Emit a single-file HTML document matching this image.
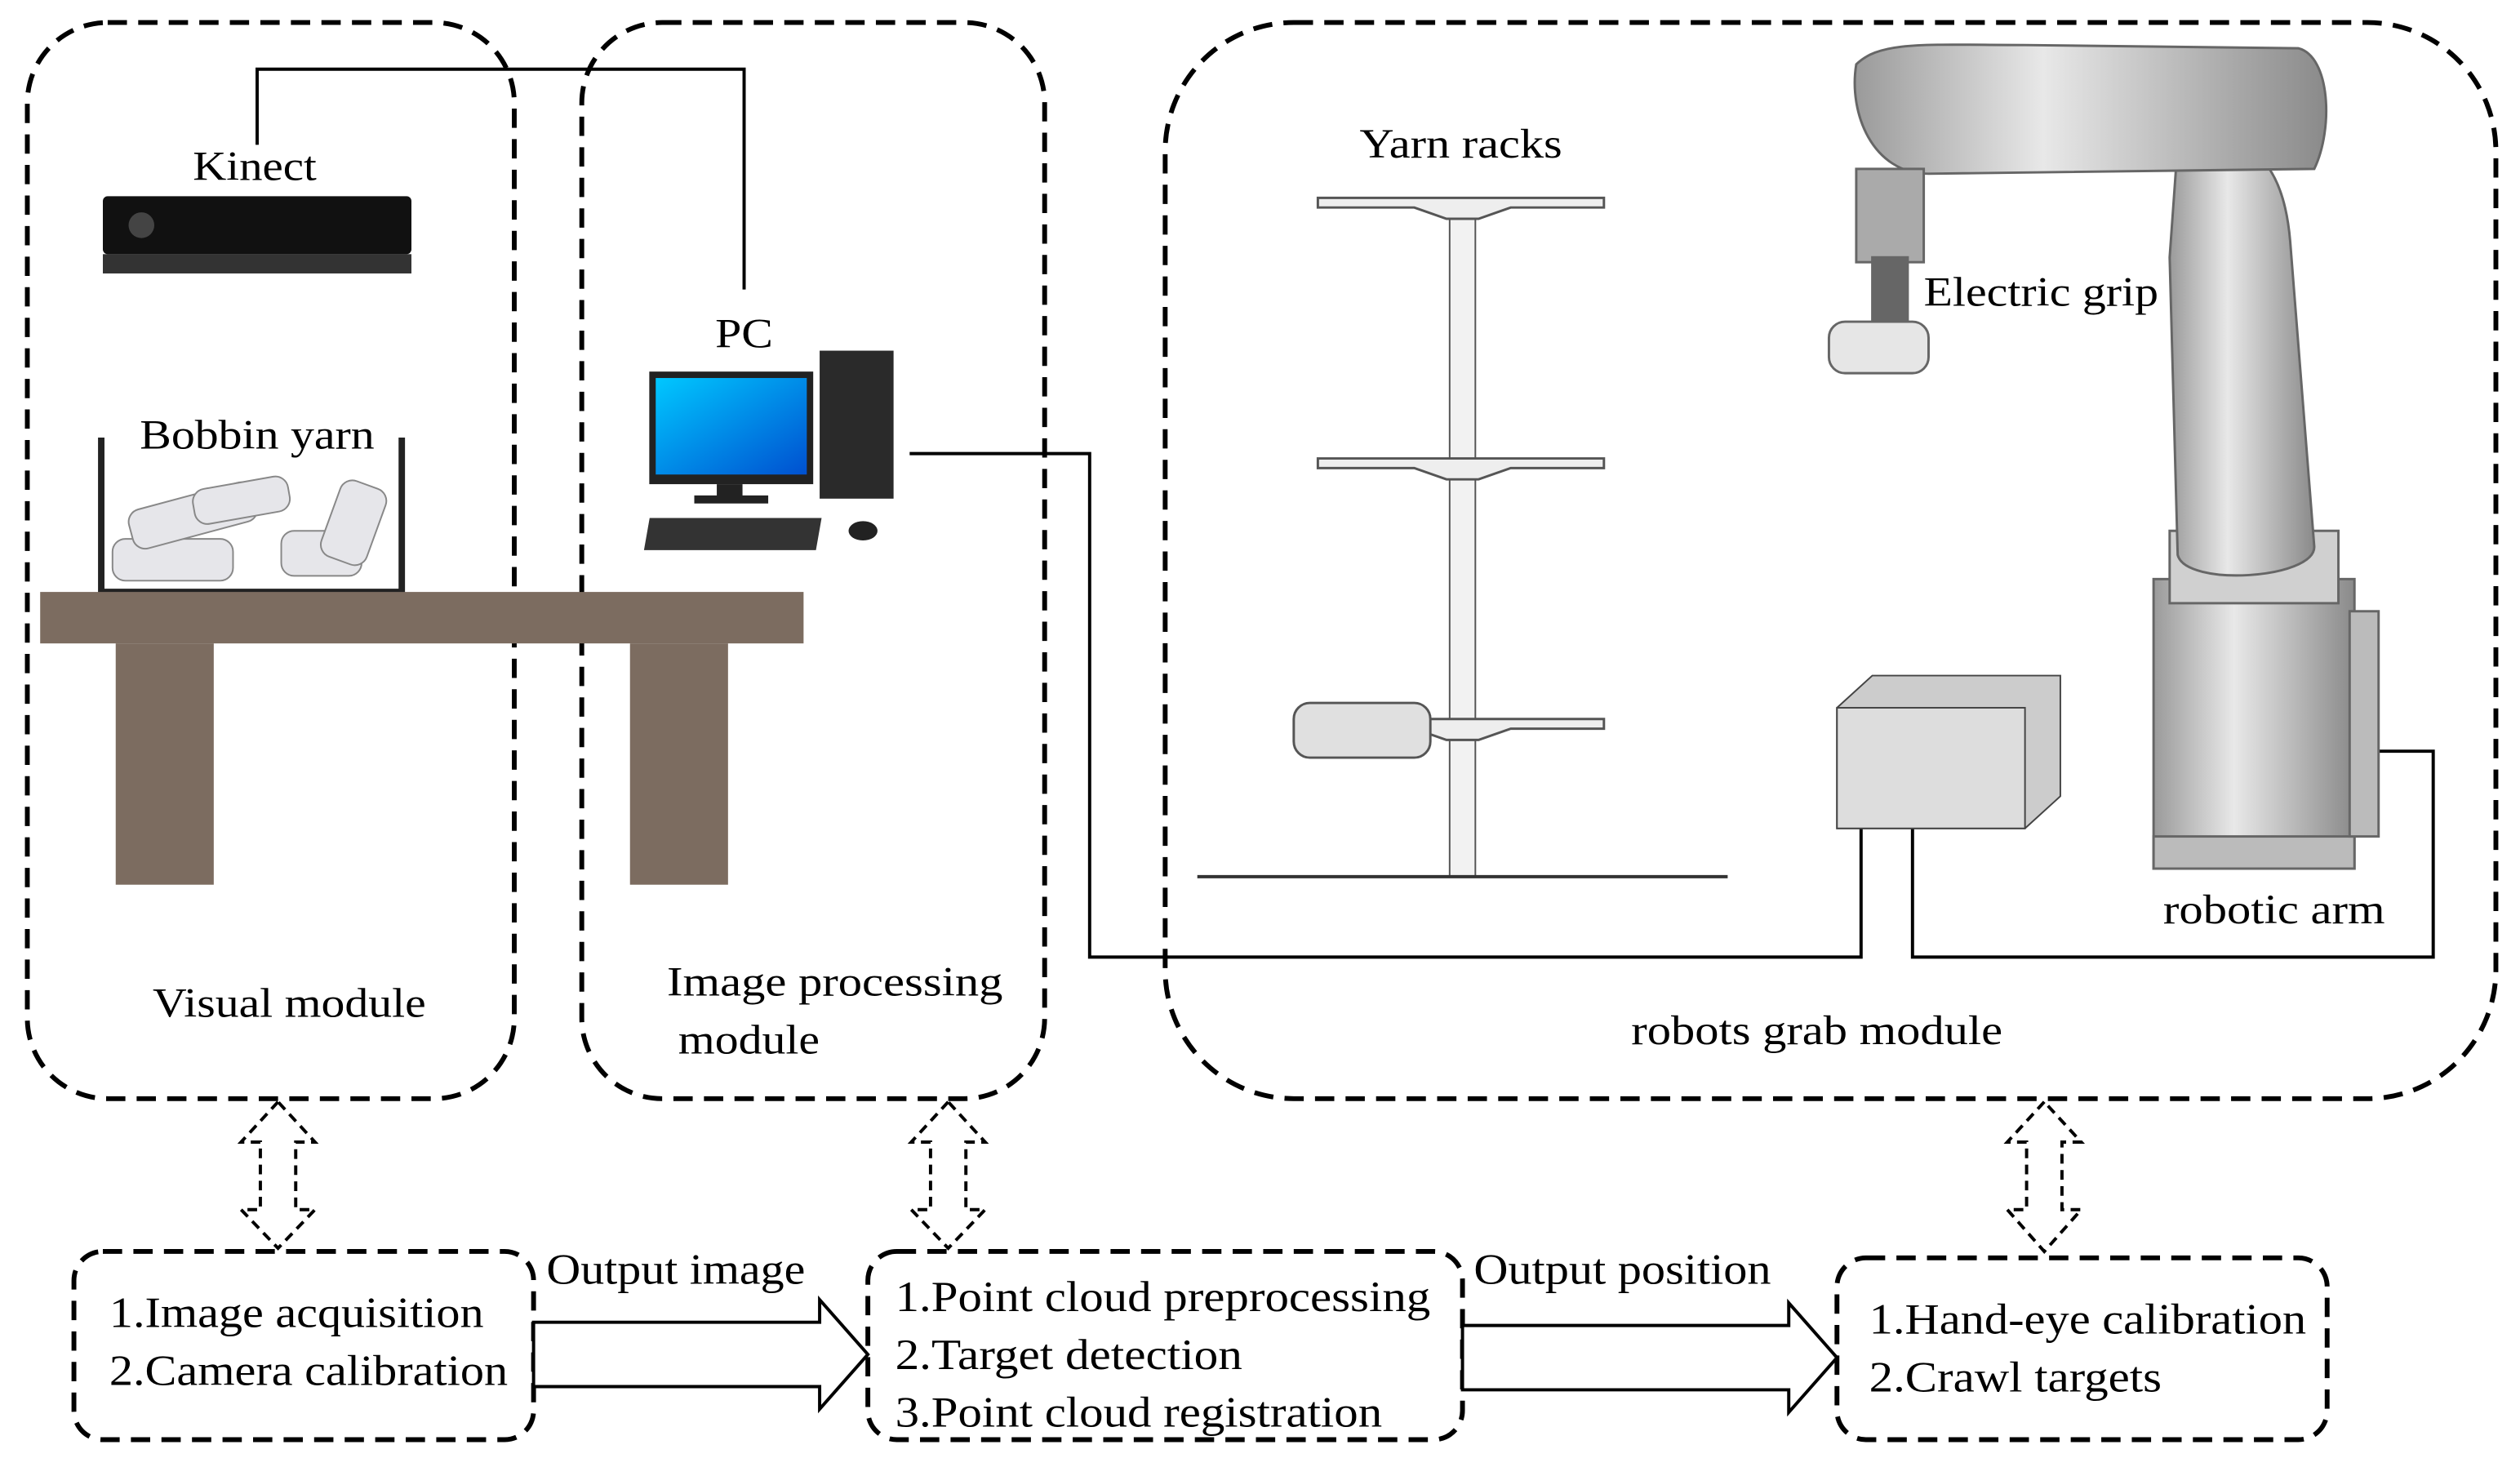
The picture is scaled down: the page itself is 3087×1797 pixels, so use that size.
<!DOCTYPE html>
<html><head><meta charset="utf-8"><style>html,body{margin:0;padding:0;background:#fff}svg{display:block}</style></head><body>
<svg width="3087" height="1797" viewBox="0 0 1568 912" preserveAspectRatio="none" xmlns="http://www.w3.org/2000/svg" font-family="Liberation Serif, serif" font-size="26">
<defs>
<linearGradient id="scr" x1="0" y1="0" x2="1" y2="1"><stop offset="0" stop-color="#00c8ff"/><stop offset="1" stop-color="#0050d0"/></linearGradient>
<linearGradient id="gr" x1="0" y1="0" x2="1" y2="0"><stop offset="0" stop-color="#9a9a9a"/><stop offset="0.4" stop-color="#e8e8e8"/><stop offset="1" stop-color="#8a8a8a"/></linearGradient>
</defs>
<g fill="none" stroke="#000" stroke-width="3" stroke-dasharray="12,7">
<rect x="17" y="14" width="303" height="669" rx="50"/>
<rect x="362" y="14" width="288" height="669" rx="50"/>
<rect x="725" y="14" width="828" height="669" rx="80"/>
<rect x="46" y="778" width="286" height="117" rx="18"/>
<rect x="540" y="778" width="370" height="117" rx="18"/>
<rect x="1143" y="782" width="305" height="113" rx="18"/>
</g>
<g fill="none" stroke="#000" stroke-width="2">
<polyline points="160,90 160,43 463,43 463,180"/>
<polyline points="566,282 678,282 678,595 1158,595 1158,505"/>
<polyline points="1190,505 1190,595 1514,595 1514,467 1478,467"/>
</g>
<!-- Kinect -->
<rect x="64" y="122" width="192" height="36" rx="3" fill="#111"/>
<circle cx="88" cy="140" r="8" fill="#444"/>
<rect x="64" y="158" width="192" height="12" fill="#333"/>
<text x="120" y="112" textLength="77" lengthAdjust="spacingAndGlyphs">Kinect</text>
<!-- bobbins -->
<text x="87" y="279" textLength="146" lengthAdjust="spacingAndGlyphs">Bobbin yarn</text>
<path d="M63,272 V368 H250 V272" fill="none" stroke="#222" stroke-width="4"/>
<g fill="#e6e6ea" stroke="#888" stroke-width="1">
<rect x="70" y="335" width="75" height="26" rx="8"/>
<rect x="80" y="308" width="80" height="25" rx="8" transform="rotate(-15 120 320)"/>
<rect x="175" y="330" width="50" height="28" rx="8"/>
<rect x="205" y="300" width="30" height="50" rx="8" transform="rotate(20 220 325)"/>
<rect x="120" y="300" width="60" height="22" rx="8" transform="rotate(-10 150 310)"/>
</g>
<!-- table -->
<g fill="#7c6c60"><rect x="25" y="368" width="475" height="32"/><rect x="72" y="400" width="61" height="150"/><rect x="392" y="400" width="61" height="150"/></g>
<!-- PC -->
<text x="445" y="216" textLength="36" lengthAdjust="spacingAndGlyphs">PC</text>
<rect x="404" y="231" width="102" height="70" fill="#222"/>
<rect x="408" y="235" width="94" height="60" fill="url(#scr)"/>
<rect x="446" y="301" width="16" height="8" fill="#222"/><rect x="432" y="308" width="46" height="5" fill="#222"/>
<rect x="510" y="218" width="46" height="92" fill="#2a2a2a"/>
<rect x="403" y="322" width="107" height="20" fill="#333" transform="skewX(-10) translate(58,0)"/>
<ellipse cx="537" cy="330" rx="9" ry="6" fill="#222"/>
<!-- labels -->
<text x="95" y="632" textLength="170" lengthAdjust="spacingAndGlyphs">Visual module</text>
<text x="415" y="619" textLength="209" lengthAdjust="spacingAndGlyphs">Image processing</text>
<text x="422" y="655" textLength="88" lengthAdjust="spacingAndGlyphs">module</text>
<text x="1015" y="649" textLength="231" lengthAdjust="spacingAndGlyphs">robots grab module</text>
<!-- yarn rack -->
<text x="846" y="98" textLength="126" lengthAdjust="spacingAndGlyphs">Yarn racks</text>
<rect x="902" y="125" width="16" height="420" fill="#f2f2f2" stroke="#555"/>
<g fill="#eee" stroke="#555" stroke-width="1.5">
<path d="M820,123 H998 V129 H940 L920,136 H900 L880,129 H820Z"/>
<path d="M820,285 H998 V291 H940 L920,298 H900 L880,291 H820Z"/>
<path d="M820,447 H998 V453 H940 L920,460 H900 L880,453 H820Z"/>
<rect x="805" y="437" width="85" height="34" rx="10" fill="#e0e0e0"/>
</g>
<line x1="745" y1="545" x2="1075" y2="545" stroke="#333" stroke-width="2"/>
<!-- robot -->
<g stroke="#666" stroke-width="1.5">
<rect x="1340" y="360" width="125" height="180" fill="url(#gr)"/>
<rect x="1340" y="520" width="125" height="20" fill="#bbb"/>
<rect x="1350" y="330" width="105" height="45" fill="#d0d0d0"/>
<path d="M1355,90 C1390,80 1420,90 1425,150 L1440,340 C1440,360 1360,365 1355,345 L1350,160 Z" fill="url(#gr)"/>
<path d="M1155,40 C1170,25 1200,28 1260,28 L1430,30 C1450,35 1452,80 1440,105 L1200,108 C1165,108 1150,70 1155,40Z" fill="url(#gr)"/>
<rect x="1155" y="105" width="42" height="58" fill="#aaa"/>
<rect x="1165" y="160" width="22" height="40" fill="#666"/>
<rect x="1138" y="200" width="62" height="32" rx="10" fill="#e6e6e6"/>
<rect x="1462" y="380" width="18" height="140" fill="#bbb"/>
</g>
<text x="1197" y="190" textLength="146" lengthAdjust="spacingAndGlyphs">Electric grip</text>
<text x="1346" y="574" textLength="138" lengthAdjust="spacingAndGlyphs">robotic arm</text>
<!-- controller -->
<path d="M1143,440 L1165,420 H1282 V495 L1260,515 H1143Z" fill="#ccc" stroke="#444"/>
<rect x="1143" y="440" width="117" height="75" fill="#ddd" stroke="#444"/>
<!-- bottom text -->
<g font-size="27">
<text x="68" y="825" textLength="233" lengthAdjust="spacingAndGlyphs">1.Image acquisition</text>
<text x="68" y="861" textLength="248" lengthAdjust="spacingAndGlyphs">2.Camera calibration</text>
<text x="557" y="815" textLength="333" lengthAdjust="spacingAndGlyphs">1.Point cloud preprocessing</text>
<text x="557" y="851" textLength="216" lengthAdjust="spacingAndGlyphs">2.Target detection</text>
<text x="557" y="887" textLength="303" lengthAdjust="spacingAndGlyphs">3.Point cloud registration</text>
<text x="1163" y="829" textLength="272" lengthAdjust="spacingAndGlyphs">1.Hand-eye calibration</text>
<text x="1163" y="865" textLength="182" lengthAdjust="spacingAndGlyphs">2.Crawl targets</text>
<text x="340" y="798" textLength="161" lengthAdjust="spacingAndGlyphs">Output image</text>
<text x="917" y="798" textLength="185" lengthAdjust="spacingAndGlyphs">Output position</text>
</g>
<!-- hollow arrows -->
<g fill="#fff" stroke="#000" stroke-width="2">
<path d="M332,822 H510 V808 L540,842 L510,876 V862 H332Z"/>
<path d="M910,824 H1113 V810 L1143,844 L1113,878 V864 H910Z"/>
</g>
<g fill="#fff" stroke="#000" stroke-width="2" stroke-dasharray="6,4">
<path d="M173,685 L150,710 H162 V752 H150 L173,776 L196,752 H184 V710 H196Z"/>
<path d="M590,685 L567,710 H579 V752 H567 L590,776 L613,752 H601 V710 H613Z"/>
<path d="M1272,685 L1249,710 H1261 V752 H1249 L1272,778 L1295,752 H1283 V710 H1295Z"/>
</g>
</svg>
</body></html>
